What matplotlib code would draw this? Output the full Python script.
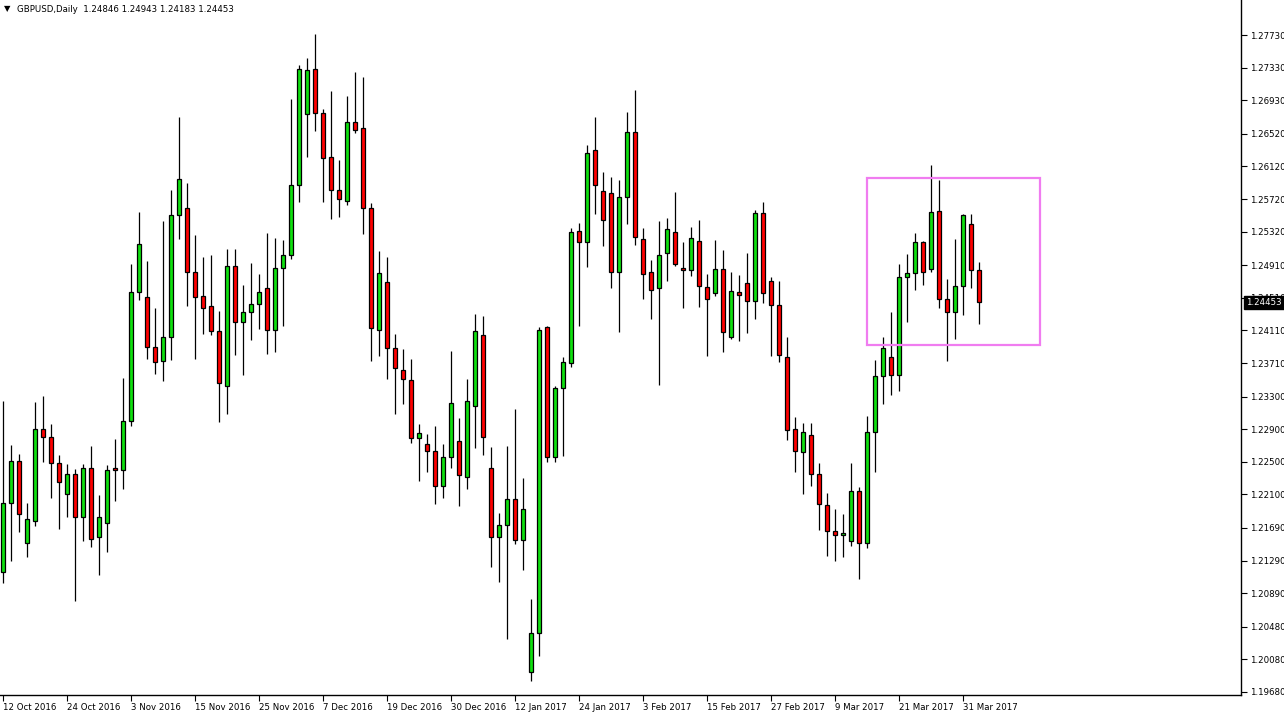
import matplotlib
matplotlib.use('Agg')
import matplotlib.pyplot as plt
import matplotlib.patches as mpatches
import numpy as np
import pandas as pd

# ---------------- data (GBPUSD daily OHLC) ----------------
opens = [1.2115, 1.2199, 1.2251, 1.2150, 1.2177, 1.2290, 1.2281, 1.2248, 1.2211, 1.2235,
         1.2183, 1.2243, 1.2158, 1.2175, 1.2242, 1.2240, 1.2300, 1.2458, 1.2452, 1.2391,
         1.2373, 1.2403, 1.2553, 1.2561, 1.2482, 1.2453, 1.2441, 1.2410, 1.2343, 1.2490,
         1.2421, 1.2434, 1.2444, 1.2463, 1.2412, 1.2488, 1.2504, 1.2589, 1.2676, 1.2731,
         1.2677, 1.2623, 1.2583, 1.2570, 1.2667, 1.2659, 1.2561, 1.2412, 1.2470, 1.2389,
         1.2363, 1.2350, 1.2279, 1.2272, 1.2263, 1.2221, 1.2256, 1.2276, 1.2231, 1.2319,
         1.2405, 1.2242, 1.2158, 1.2173, 1.2204, 1.2154, 1.1993, 1.2040, 1.2415, 1.2256,
         1.2340, 1.2371, 1.2533, 1.2519, 1.2632, 1.2582, 1.2579, 1.2482, 1.2574, 1.2654,
         1.2523, 1.2483, 1.2463, 1.2506, 1.2532, 1.2488, 1.2485, 1.2520, 1.2464, 1.2457,
         1.2486, 1.2403, 1.2458, 1.2469, 1.2447, 1.2555, 1.2472, 1.2442, 1.2379, 1.2290,
         1.2262, 1.2283, 1.2235, 1.2197, 1.2165, 1.2160, 1.2153, 1.2214, 1.2150, 1.2286,
         1.2355, 1.2378, 1.2356, 1.2476, 1.2481, 1.2519, 1.2486, 1.2557, 1.2449, 1.2433,
         1.2465, 1.2541, 1.24846]
highs = [1.2324, 1.2271, 1.2260, 1.2200, 1.2323, 1.2331, 1.2296, 1.2258, 1.2247, 1.2241,
         1.2247, 1.2269, 1.2209, 1.2246, 1.2278, 1.2353, 1.2493, 1.2556, 1.2496, 1.2439,
         1.2545, 1.2583, 1.2673, 1.2592, 1.2528, 1.2501, 1.2503, 1.2435, 1.2511, 1.2511,
         1.2467, 1.2494, 1.2480, 1.2530, 1.2524, 1.2522, 1.2695, 1.2736, 1.2745, 1.2774,
         1.2682, 1.2704, 1.2620, 1.2698, 1.2728, 1.2722, 1.2567, 1.2508, 1.2501, 1.2407,
         1.2388, 1.2376, 1.2296, 1.2284, 1.2294, 1.2272, 1.2386, 1.2304, 1.2352, 1.2431,
         1.2429, 1.2268, 1.2187, 1.2269, 1.2315, 1.2230, 1.2082, 1.2415, 1.2416, 1.2343,
         1.2379, 1.2537, 1.2543, 1.2638, 1.2673, 1.2605, 1.2599, 1.2595, 1.2679, 1.2706,
         1.2537, 1.2497, 1.2545, 1.2549, 1.2581, 1.2519, 1.2538, 1.2546, 1.2480, 1.2522,
         1.2510, 1.2482, 1.2479, 1.2506, 1.2559, 1.2568, 1.2477, 1.2471, 1.2403, 1.2305,
         1.2298, 1.2298, 1.2249, 1.2212, 1.2192, 1.2186, 1.2249, 1.2219, 1.2306, 1.2375,
         1.2403, 1.2434, 1.2492, 1.2505, 1.2530, 1.2521, 1.2614, 1.2595, 1.2474, 1.2523,
         1.2554, 1.2554, 1.24943]
lows = [1.2102, 1.2129, 1.2164, 1.2133, 1.2171, 1.2250, 1.2206, 1.2168, 1.2182, 1.2079,
        1.2153, 1.2146, 1.2111, 1.2140, 1.2202, 1.2217, 1.2294, 1.2448, 1.2376, 1.2358,
        1.2349, 1.2375, 1.2523, 1.2441, 1.2376, 1.2407, 1.2406, 1.2299, 1.2309, 1.2381,
        1.2356, 1.2399, 1.2413, 1.2382, 1.2385, 1.2417, 1.2499, 1.2568, 1.2624, 1.2655,
        1.2568, 1.2547, 1.2550, 1.2565, 1.2653, 1.2529, 1.2373, 1.2380, 1.2352, 1.2309,
        1.2321, 1.2273, 1.2226, 1.2237, 1.2198, 1.2206, 1.2242, 1.2196, 1.2217, 1.2267,
        1.2258, 1.2121, 1.2103, 1.2033, 1.2149, 1.2118, 1.1982, 1.2012, 1.2250, 1.2250,
        1.2257, 1.2366, 1.2416, 1.2489, 1.2554, 1.2514, 1.2463, 1.2409, 1.2541, 1.2516,
        1.2450, 1.2425, 1.2344, 1.2472, 1.2490, 1.2438, 1.2478, 1.2440, 1.2380, 1.2453,
        1.2385, 1.2401, 1.2398, 1.2408, 1.2425, 1.2445, 1.2380, 1.2372, 1.2277, 1.2238,
        1.2211, 1.2221, 1.2166, 1.2135, 1.2129, 1.2133, 1.2147, 1.2106, 1.2144, 1.2238,
        1.2321, 1.2332, 1.2337, 1.2421, 1.2461, 1.2467, 1.2483, 1.2439, 1.2373, 1.2401,
        1.2430, 1.2463, 1.24183]
closes = [1.2200, 1.2251, 1.2186, 1.2180, 1.2290, 1.2281, 1.2248, 1.2225, 1.2235, 1.2183,
          1.2243, 1.2156, 1.2183, 1.2240, 1.2240, 1.2300, 1.2458, 1.2517, 1.2391, 1.2372,
          1.2403, 1.2552, 1.2597, 1.2482, 1.2452, 1.2438, 1.2410, 1.2346, 1.2490, 1.2421,
          1.2434, 1.2444, 1.2458, 1.2412, 1.2488, 1.2504, 1.2589, 1.2731, 1.2730, 1.2677,
          1.2622, 1.2583, 1.2572, 1.2667, 1.2656, 1.2561, 1.2414, 1.2481, 1.2390, 1.2365,
          1.2351, 1.2279, 1.2285, 1.2263, 1.2221, 1.2256, 1.2322, 1.2234, 1.2324, 1.2410,
          1.2281, 1.2158, 1.2172, 1.2204, 1.2154, 1.2192, 1.2040, 1.2412, 1.2256, 1.2340,
          1.2372, 1.2532, 1.2519, 1.2628, 1.2589, 1.2546, 1.2483, 1.2574, 1.2654, 1.2525,
          1.2480, 1.2461, 1.2503, 1.2535, 1.2492, 1.2485, 1.2524, 1.2465, 1.2449, 1.2486,
          1.2409, 1.2459, 1.2454, 1.2447, 1.2555, 1.2457, 1.2442, 1.2381, 1.2289, 1.2263,
          1.2287, 1.2235, 1.2198, 1.2165, 1.2160, 1.2163, 1.2214, 1.2150, 1.2286, 1.2355,
          1.2389, 1.2356, 1.2476, 1.2481, 1.2519, 1.2482, 1.2556, 1.2449, 1.2433, 1.2466,
          1.2552, 1.2485, 1.24453]

holidays = ['2016-12-26', '2017-01-02']
dates = pd.bdate_range('2016-10-12', '2017-04-04')
dates = dates[~dates.isin(pd.to_datetime(holidays))]

price_labels = ['1.27730', '1.27330', '1.26930', '1.26520', '1.26120', '1.25720', '1.25320',
                '1.24910', '1.24510', '1.24110', '1.23710', '1.23300', '1.22900', '1.22500',
                '1.22100', '1.21690', '1.21290', '1.20890', '1.20480', '1.20080', '1.19680']
symbol = 'GBPUSD,Daily'
date_label_step = 8

# highlighted zone (bar index / price)
zone_bar_start, zone_bar_end = 108.0, 129.6
zone_price_low, zone_price_high = 1.23935, 1.25978

# ---------------- styling ----------------
BULL = '#10E010'
BEAR = '#FF0000'
ZONE = '#F07CF0'
FS = 6.2

W, H = 1284, 718
fig = plt.figure(figsize=(W / 100, H / 100), dpi=100)
fig.patch.set_facecolor('white')
ax = fig.add_axes([0.0, 23 / H, 1241 / W, 695 / H])
ax.set_facecolor('white')

n = len(opens)
x = np.arange(n)
o = np.array(opens); h = np.array(highs); l = np.array(lows); c = np.array(closes)
colors = [BULL if cc >= oo else BEAR for oo, cc in zip(o, c)]

ax.vlines(x, l, h, color='black', linewidth=0.9, zorder=2)
bottoms = np.minimum(o, c)
heights = np.maximum(np.abs(c - o), 1e-6)
ax.bar(x, heights, bottom=bottoms, width=0.55, color=colors,
       edgecolor='black', linewidth=0.9, zorder=3)

# zone rectangle
ax.add_patch(mpatches.Rectangle((zone_bar_start, zone_price_low),
                                zone_bar_end - zone_bar_start,
                                zone_price_high - zone_price_low,
                                fill=False, edgecolor=ZONE, linewidth=1.6, zorder=4))

# limits: bar spacing 8 px, first bar 2.7 px from left edge
px_per_bar = 8.0
ax.set_xlim(-2.7 / px_per_bar, (1241 - 2.7) / px_per_bar)
ax.set_ylim(1.19643, 1.28159)

for s in ['left', 'top']:
    ax.spines[s].set_visible(False)
for s in ['right', 'bottom']:
    ax.spines[s].set_linewidth(1.0)
    ax.spines[s].set_color('black')

# price axis
ax.yaxis.tick_right()
ax.set_yticks([float(p) for p in price_labels])
ax.set_yticklabels(price_labels)
ax.tick_params(axis='y', length=4, width=0.8, pad=2.5, labelsize=FS, colors='black')

# date axis
tick_idx = list(range(0, n, date_label_step))
ax.set_xticks(tick_idx)
ax.set_xticklabels([f"{dates[i].day} {dates[i].strftime('%b %Y')}" for i in tick_idx],
                   ha='left')
ax.tick_params(axis='x', length=4, width=0.8, pad=1.5, labelsize=FS, colors='black')
for lab in ax.get_xticklabels():
    lab.set_horizontalalignment('left')

# current price label (covers the 1.24510 grid label, as in the terminal)
ax.annotate(f"{closes[-1]:.5f}", xy=(1.0, closes[-1]), xycoords=('axes fraction', 'data'),
            xytext=(3.5, 0), textcoords='offset points', ha='left', va='center',
            color='white', fontsize=FS, zorder=10, annotation_clip=False,
            bbox=dict(boxstyle='square,pad=0.25', facecolor='black', edgecolor='black'))

# header
fig.text(4 / W, 1 - 8.5 / H, '\u25BC', fontsize=6, va='center', ha='left', color='black')
fig.text(17 / W, 1 - 9 / H,
         f"{symbol}  {opens[-1]:.5f} {highs[-1]:.5f} {lows[-1]:.5f} {closes[-1]:.5f}",
         fontsize=FS, va='center', ha='left', color='black')

fig.savefig('out.png', dpi=100, facecolor='white')
